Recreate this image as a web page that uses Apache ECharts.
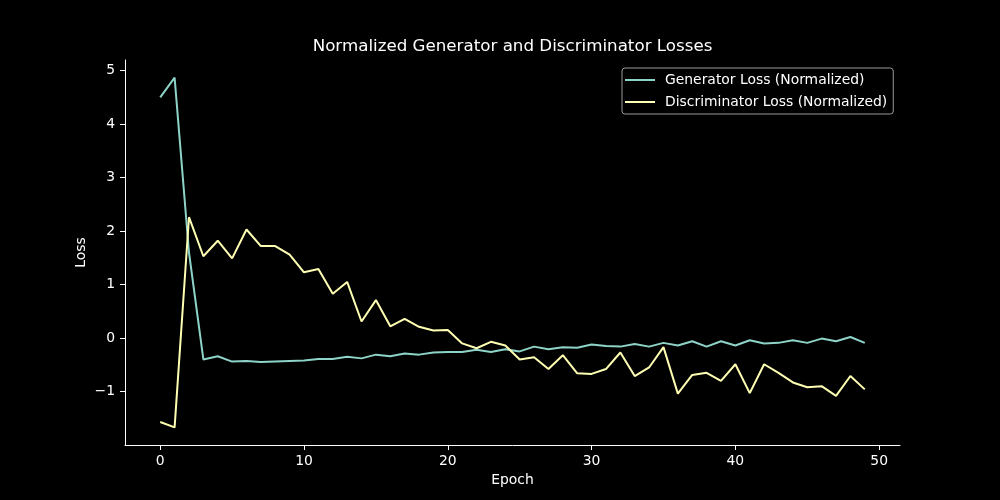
<!DOCTYPE html>
<html>
<head>
<meta charset="utf-8">
<title>Normalized Generator and Discriminator Losses</title>
<script src="https://cdn.jsdelivr.net/npm/echarts@6/dist/echarts.min.js"></script>
<style>
    html, body { margin: 0; padding: 0; background: #000; }
    #loss_chart { width: 1000px; height: 500px; }
</style>
</head>
<body>
<div id="loss_chart"></div>
<script>
// values
var genLoss = [4.50, 4.87, 1.60, -0.40, -0.34, -0.44, -0.43, -0.45, -0.44, -0.43,
    -0.42, -0.39, -0.39, -0.35, -0.38, -0.31, -0.34, -0.29, -0.31, -0.27,
    -0.26, -0.26, -0.22, -0.26, -0.21, -0.25, -0.16, -0.21, -0.17, -0.18,
    -0.12, -0.15, -0.16, -0.11, -0.16, -0.09, -0.14, -0.06, -0.16, -0.06,
    -0.14, -0.04, -0.10, -0.09, -0.04, -0.09, -0.01, -0.06, 0.02, -0.09];
var discLoss = [-1.57, -1.67, 2.26, 1.53, 1.82, 1.49, 2.03, 1.72, 1.72, 1.56,
    1.23, 1.29, 0.83, 1.05, 0.31, 0.71, 0.22, 0.36, 0.21, 0.14,
    0.15, -0.10, -0.19, -0.07, -0.14, -0.40, -0.36, -0.58, -0.32, -0.66,
    -0.67, -0.58, -0.27, -0.71, -0.55, -0.17, -1.04, -0.69, -0.65, -0.80,
    -0.49, -1.03, -0.49, -0.65, -0.83, -0.92, -0.90, -1.08, -0.71, -0.96];
var xTicks = [0, 10, 20, 30, 40, 50];
var yTicks = [-1, 0, 1, 2, 3, 4, 5];
var seriesNames = ['Generator Loss (Normalized)', 'Discriminator Loss (Normalized)'];

function pairs(arr) {
    // epoch number is the index
    return arr.map(function (v, i) { return [i, v]; });
}

function minusSign(v) {
    return String(v).replace('-', '\u2212');
}

function lossChart() {
    var dom = document.getElementById("loss_chart");
    var myChart = echarts.init(dom, null, { renderer: 'canvas' });
    var font = 'DejaVu Sans';
    var option = {
        backgroundColor: '#000',
        animation: false,
        title: {
            text: 'Normalized Generator and Discriminator Losses',
            left: 512.5,
            top: 38,
            padding: 0,
            textAlign: 'center',
            textStyle: { color: '#fff', fontFamily: font, fontSize: 16.7, fontWeight: 'normal' }
        },
        legend: {
            orient: 'vertical',
            left: 622,
            top: 68,
            padding: [4, 6, 4, 3],
            itemGap: 6,
            itemWidth: 30,
            itemHeight: 2,
            icon: 'rect',
            backgroundColor: '#000',
            borderColor: '#9a9a9a',
            borderWidth: 1,
            borderRadius: 3,
            data: seriesNames,
            textStyle: { color: '#fff', fontFamily: font, fontSize: 13.9, padding: [0, 0, 0, 5], lineHeight: 16 }
        },
        grid: {
            left: 125,
            right: 100,
            top: 60,
            bottom: 55
        },
        xAxis: {
            type: 'value',
            min: -2.45,
            max: 51.45,
            name: 'Epoch',
            nameLocation: 'middle',
            nameGap: 28,
            nameMoveOverlap: false,
            nameTextStyle: { color: '#fff', fontFamily: font, fontSize: 13.9 },
            axisLine: { show: true, onZero: false, lineStyle: { color: '#fff', width: 1 } },
            axisTick: { show: true, length: 5, customValues: xTicks, lineStyle: { color: '#fff' } },
            axisLabel: { color: '#fff', fontFamily: font, fontSize: 13.9, margin: 9, customValues: xTicks, formatter: minusSign },
            splitLine: { show: false }
        },
        yAxis: {
            type: 'value',
            min: -2.0,
            max: 5.2,
            name: 'Loss',
            nameLocation: 'middle',
            nameGap: 37,
            nameMoveOverlap: false,
            nameTextStyle: { color: '#fff', fontFamily: font, fontSize: 13.9 },
            axisLine: { show: true, onZero: false, lineStyle: { color: '#fff', width: 1 } },
            axisTick: { show: true, length: 5, customValues: yTicks, lineStyle: { color: '#fff' } },
            axisLabel: { color: '#fff', fontFamily: font, fontSize: 13.9, margin: 10, customValues: yTicks, formatter: minusSign },
            splitLine: { show: false }
        },
        series: [{
            name: seriesNames[0],
            type: 'line',
            data: pairs(genLoss),
            symbol: 'none',
            color: '#8dd3c7',
            lineStyle: { width: 2, color: '#8dd3c7' }
        }, {
            name: seriesNames[1],
            type: 'line',
            data: pairs(discLoss),
            symbol: 'none',
            color: '#feffb3',
            lineStyle: { width: 2, color: '#feffb3' }
        }]
    };
    myChart.setOption(option, true);
    window.onresize = myChart.resize;
}

lossChart();
</script>
</body>
</html>
